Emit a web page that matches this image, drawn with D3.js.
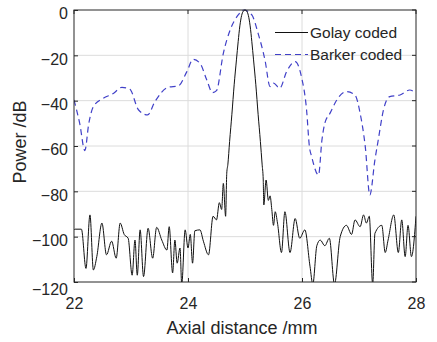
<!DOCTYPE html>
<html>
<head>
<meta charset="utf-8">
<script src="https://cdn.jsdelivr.net/npm/d3@7"></script>
<style>
  body { margin: 0; background: #fff; }
  text { font-family: "Liberation Sans", Arial, sans-serif; fill: #262626; }
</style>
</head>
<body>
<svg id="chart" width="437" height="342"></svg>
<script>
// axial distance (mm) and power (dB)
const golayX = [22.0, 22.02, 22.13, 22.21, 22.28, 22.34, 22.4, 22.49, 22.57, 22.66, 22.74, 22.81, 22.88, 22.95, 23.02, 23.07, 23.11, 23.16, 23.22, 23.3, 23.38, 23.45, 23.54, 23.63, 23.67, 23.73, 23.77, 23.81, 23.86, 23.89, 23.95, 24.0, 24.04, 24.08, 24.12, 24.21, 24.27, 24.36, 24.44, 24.5, 24.55, 24.59, 24.62, 24.66, 24.68,
  24.7, 24.73, 24.77, 24.81, 24.85, 24.88, 24.91, 24.94, 24.97, 25.0, 25.03, 25.06, 25.09, 25.12, 25.15, 25.19, 25.23, 25.27, 25.3,
  25.32, 25.33, 25.37, 25.41, 25.44, 25.47, 25.5, 25.53, 25.57, 25.64, 25.7, 25.79, 25.88, 25.96, 26.05, 26.14, 26.19, 26.26, 26.32, 26.4, 26.48, 26.57, 26.67, 26.78, 26.87, 26.93, 27.02, 27.08, 27.13, 27.18, 27.24, 27.28, 27.4, 27.46, 27.51, 27.61, 27.69, 27.75, 27.81, 27.86, 27.92, 28.0];
const golayY = [-97, -96.7, -96.7, -114, -90.4, -114.7, -108.8, -94, -108, -102, -109.5, -94, -99, -100.7, -117, -101.5, -117, -97, -117.6, -96.3, -109.5, -95.9, -101.5, -105.9, -95.6, -116, -101.5, -111.7, -105, -121, -97, -105, -99, -111.7, -97.4, -97, -102, -108, -91, -92.6, -85, -88, -76.5, -91, -72,
  -68, -58, -46, -33, -22, -14, -7, -2.5, -0.5, 0, -0.5, -2.5, -7, -14, -22, -33, -46, -58, -68,
  -75, -86, -75, -84, -82, -88, -95, -89, -94, -107, -89, -107, -92, -100.7, -97, -113, -121, -104, -101.5, -104, -100.7, -121, -100, -95, -99, -92.6, -95.6, -90.4, -94, -91, -121, -98.5, -95, -107, -101.5, -90.4, -107, -92.6, -108.8, -95, -108.8, -91];

const barkerX = [22.0, 22.1, 22.19, 22.26, 22.34, 22.51, 22.69, 22.84, 22.98, 23.13, 23.29, 23.42, 23.65, 23.83, 23.98, 24.09, 24.21, 24.33, 24.43, 24.5, 24.62, 24.74, 24.88, 24.98, 25.12, 25.23, 25.35, 25.44, 25.5, 25.61, 25.73, 25.88, 25.99, 26.08, 26.13, 26.17, 26.29, 26.35, 26.4, 26.49, 26.61, 26.78, 26.93, 27.02, 27.11, 27.19, 27.28, 27.34, 27.43, 27.54, 27.72, 27.89, 28.0];
const barkerY = [-39.7, -50, -62, -50, -42.6, -39, -36.8, -34.1, -35, -44, -46.3, -40.4, -34.1, -33.5, -27.2, -21.8, -23.5, -30.9, -36.5, -35.6, -19.1, -8.8, -2.2, 0, -2.2, -10.3, -22, -33.8, -32.3, -34.5, -27.2, -22.8, -29.4, -44, -60.3, -64.7, -72.8, -57.3, -50, -45.6, -39.7, -36, -37.5, -45.6, -60.3, -81.6, -66, -57, -44, -38.2, -37.5, -35.3, -36.8];

const xTicks = [22, 24, 26, 28];
const yTicks = [0, -20, -40, -60, -80, -100, -120];
const seriesNames = ['Golay coded', 'Barker coded'];

const plotL = 74, plotR = 416, plotT = 10, plotB = 282;
const svg = d3.select('#chart');

const x = d3.scaleLinear().domain([22, 28]).range([plotL, plotR]);
const y = d3.scaleLinear().domain([-120, 0]).range([plotB, plotT]);

// grid
svg.append('g').selectAll('line').data(xTicks.slice(1, -1)).join('line')
  .attr('x1', d => x(d)).attr('x2', d => x(d))
  .attr('y1', plotT).attr('y2', plotB)
  .attr('stroke', '#dcdcdc').attr('stroke-width', 1);
svg.append('g').selectAll('line').data(yTicks.slice(1, -1)).join('line')
  .attr('y1', d => y(d)).attr('y2', d => y(d))
  .attr('x1', plotL).attr('x2', plotR)
  .attr('stroke', '#dcdcdc').attr('stroke-width', 1);

svg.append('clipPath').attr('id', 'clip')
  .append('rect').attr('x', plotL).attr('y', plotT - 1)
  .attr('width', plotR - plotL).attr('height', plotB - plotT + 1);

const line = d3.line().x(d => x(d[0])).y(d => y(d[1])).curve(d3.curveMonotoneX);

const plot = svg.append('g').attr('clip-path', 'url(#clip)');
plot.append('path')
  .attr('d', line(d3.zip(barkerX, barkerY)))
  .attr('fill', 'none').attr('stroke', '#4040c8')
  .attr('stroke-width', 1.2).attr('stroke-dasharray', '6,4');
plot.append('path')
  .attr('d', line(d3.zip(golayX, golayY)))
  .attr('fill', 'none').attr('stroke', '#111')
  .attr('stroke-width', 1);

// axes with inward ticks
const xAxis = svg.append('g').attr('transform', `translate(0,${plotB})`)
  .call(d3.axisBottom(x).tickValues(xTicks).tickFormat(d3.format('d')).tickSize(-4).tickPadding(14));
const yAxis = svg.append('g').attr('transform', `translate(${plotL},0)`)
  .call(d3.axisLeft(y).tickValues(yTicks).tickFormat(d3.format('d')).tickSize(-4).tickPadding(6));
[xAxis, yAxis].forEach(a => {
  a.select('.domain').remove();
  a.selectAll('line').attr('stroke', '#262626');
  a.selectAll('text').style('font-size', '16px')
    .style('font-family', '"Liberation Sans", Arial, sans-serif').attr('fill', '#262626');
});
yAxis.selectAll('text').attr('dy', (d) => d === -120 ? '0.78em' : '0.55em');
xAxis.selectAll('text').attr('dy', '0.8em');

// right/top ticks
svg.append('g').selectAll('line').data(yTicks).join('line')
  .attr('x1', plotR).attr('x2', plotR - 4)
  .attr('y1', d => y(d)).attr('y2', d => y(d)).attr('stroke', '#262626');
svg.append('g').selectAll('line').data(xTicks).join('line')
  .attr('y1', plotT).attr('y2', plotT + 4)
  .attr('x1', d => x(d)).attr('x2', d => x(d)).attr('stroke', '#262626');

svg.append('rect').attr('x', plotL).attr('y', plotT)
  .attr('width', plotR - plotL).attr('height', plotB - plotT)
  .attr('fill', 'none').attr('stroke', '#262626').attr('stroke-width', 1);

// labels
svg.append('text').attr('x', (plotL + plotR) / 2 - 3).attr('y', 334)
  .attr('text-anchor', 'middle').style('font-size', '18px').text('Axial distance /mm');
svg.append('text').attr('transform', `translate(26,142) rotate(-90)`)
  .attr('text-anchor', 'middle').style('font-size', '18px').text('Power /dB');

// legend
const legend = svg.append('g');
const legendStyles = [
  { stroke: '#111', dash: null, w: 1 },
  { stroke: '#4040c8', dash: '6,4', w: 1.2 }
];
seriesNames.forEach((name, i) => {
  const ly = 32.5 + i * 22;
  legend.append('line').attr('x1', 275).attr('x2', 308).attr('y1', ly).attr('y2', ly)
    .attr('stroke', legendStyles[i].stroke).attr('stroke-width', legendStyles[i].w)
    .attr('stroke-dasharray', legendStyles[i].dash);
  legend.append('text').attr('x', 310).attr('y', ly + 5.5)
    .style('font-size', '15.5px').text(name);
});
</script>
</body>
</html>
